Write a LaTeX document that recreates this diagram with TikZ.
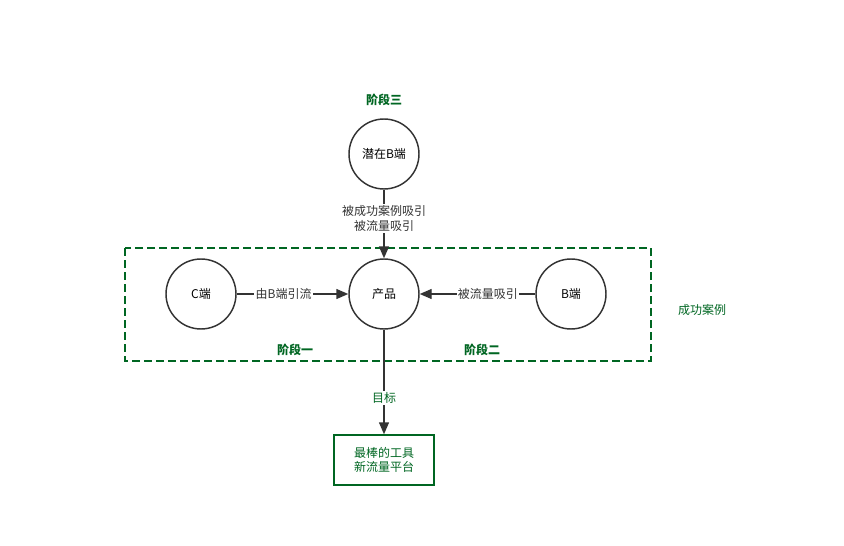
\documentclass[tikz,border=0pt]{standalone}
\usepackage{fontspec}
\newfontfamily\cjk{Noto Sans CJK SC}
\usetikzlibrary{arrows.meta,positioning}
\definecolor{stagegreen}{RGB}{0,102,34}
\definecolor{linegray}{RGB}{51,51,51}

\begin{document}
\begin{tikzpicture}[x=0.75pt,y=-0.75pt,>={Triangle[length=9pt,width=7.5pt]},
  every node/.style={font=\cjk\fontsize{9}{11}\selectfont},
  party/.style={draw=linegray,line width=1.1pt,circle,minimum size=52.5pt,inner sep=0pt},
  flow/.style={->,draw=linegray,line width=1.1pt},
  flowlabel/.style={fill=white,inner sep=1pt,align=center,text=black!80},
  stage/.style={text=stagegreen,font=\cjk\bfseries\fontsize{9}{11}\selectfont}]
\useasboundingbox (0,0) rectangle (844,546);
\draw[stagegreen,line width=1.1pt,dash pattern=on 6pt off 3pt] (125,248) rectangle (651,361);
\node[party] (potB) at (384,154) {潜在B端};
\node[party] (prod) at (384,294) {产品};
\node[party] (cend) at (201,294) {C端};
\node[party] (bend) at (571,294) {B端};
\node[draw=stagegreen,line width=1.1pt,minimum width=75pt,minimum height=37.5pt,align=center,text=stagegreen,inner sep=1pt] (goal) at (384,460) {最棒的工具\\新流量平台};
\node[stage] (s3) at (384,100) {阶段三};
\node[stage] (s1) at (295,350) {阶段一};
\node[stage] (s2) at (482,350) {阶段二};
\node[text=stagegreen] (case) at (702,310) {成功案例};
\draw[flow] (potB) -- node[flowlabel,pos=0.42]{被成功案例吸引\\被流量吸引} (prod);
\draw[flow] (cend) -- node[flowlabel,pos=0.42]{由B端引流} (prod);
\draw[flow] (bend) -- node[flowlabel,pos=0.41]{被流量吸引} (prod);
\draw[flow] (prod) -- node[flowlabel,text=stagegreen,pos=0.65]{目标} (goal);
\end{tikzpicture}
\end{document}
